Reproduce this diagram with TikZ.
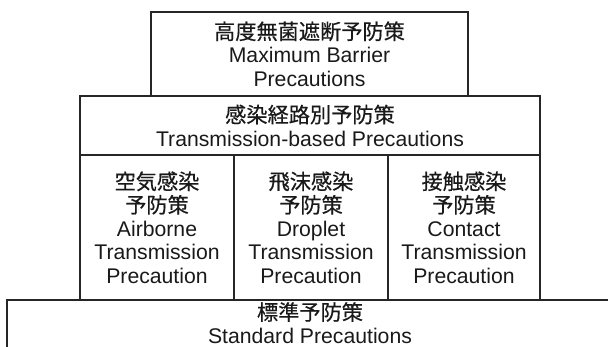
\documentclass[tikz,border=0pt]{standalone}
\usepackage{fontspec}
\setmainfont{Liberation Sans}
\newfontfamily\jp[FakeBold=0.5]{Noto Sans CJK JP}
\begin{document}
\begin{tikzpicture}[x=1pt,y=-1pt,
  txt/.style={inner sep=0pt,outer sep=0pt,align=center,
    font=\fontsize{21.2}{23.5}\selectfont,text=black!90},
  box/.style={txt,draw=black!85,line width=1.1pt,rectangle},
]
\path[use as bounding box] (0,0) rectangle (608,347);
\clip (0,0) rectangle (608,347);
\node[box,minimum width=317pt,minimum height=84pt] (top) at (309.5,54) {{\jp 高度無菌遮断予防策}\\Maximum Barrier\\Precautions};
\node[box,minimum width=460pt,minimum height=59pt] (head) at (310,125.5) {{\jp 感染経路別予防策}\\Transmission-based Precautions};
\node[box,minimum width=154pt,minimum height=145pt] (air) at (157,227.5) {{\jp 空気感染}\\{\jp 予防策}\\Airborne\\Transmission\\Precaution};
\node[box,minimum width=154pt,minimum height=145pt] (drop) at (311,227.5) {{\jp 飛沫感染}\\{\jp 予防策}\\Droplet\\Transmission\\Precaution};
\node[box,minimum width=152pt,minimum height=145pt] (cont) at (464,227.5) {{\jp 接触感染}\\{\jp 予防策}\\Contact\\Transmission\\Precaution};
\node[box,minimum width=606pt,minimum height=70pt] (std) at (310,335) {};
\node[txt] (stdtext) at (310,323) {{\jp 標準予防策}\\Standard Precautions};
\end{tikzpicture}
\end{document}
